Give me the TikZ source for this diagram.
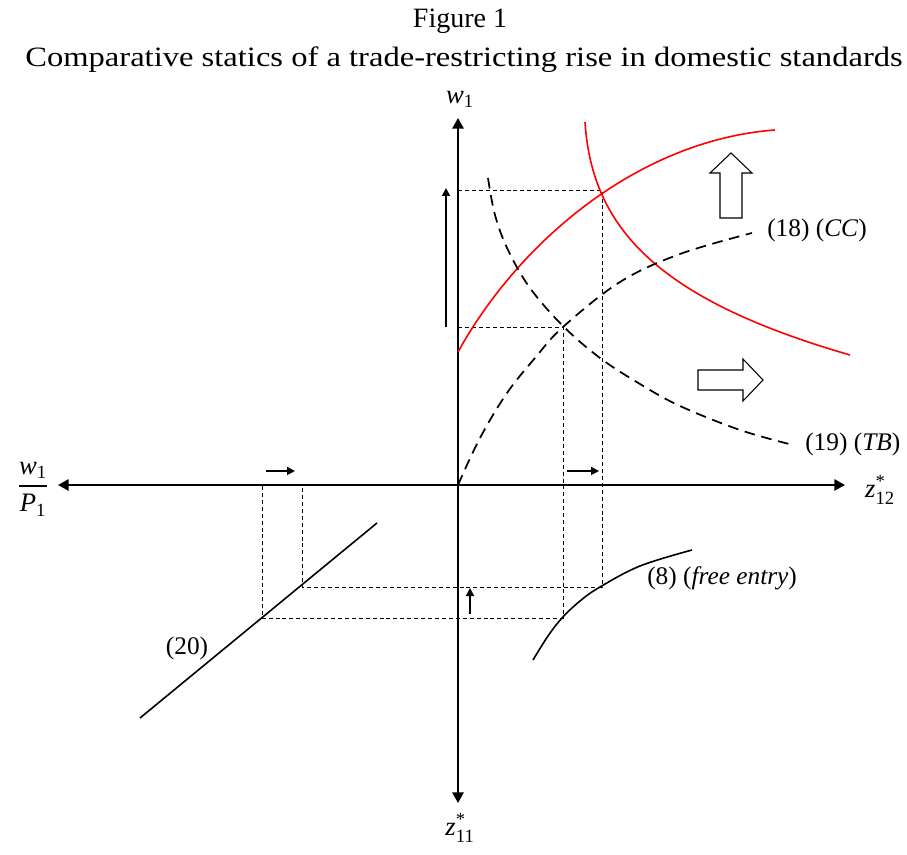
\documentclass[tikz,border=0pt]{standalone}
\usepackage{amsmath}
\usepackage{graphicx}
\usepackage{fontspec}
\setmainfont{Liberation Serif}
\usetikzlibrary{arrows.meta}
\begin{document}
\begin{tikzpicture}[x=0.75pt,y=-0.75pt,
  axis/.style={line width=1.5pt,-{Triangle[length=8pt,width=8.5pt]}},
  smallarrow/.style={line width=1.3pt,-{Triangle[length=6pt,width=6pt]}},
  guide/.style={line width=0.7pt,dash pattern=on 3pt off 2.2pt},
  curvedash/.style={line width=1.3pt,dash pattern=on 8pt off 5pt},
  redcurve/.style={line width=1.2pt,red},
  solidcurve/.style={line width=1.2pt,black},
  blockarrow/.style={line width=0.8pt,draw=black,fill=white},
  lbl/.style={font=\fontsize{19}{22}\selectfont,inner sep=0pt},
  axlbl/.style={font=\fontsize{20}{24}\selectfont,inner sep=0pt},
  ttl/.style={font=\fontsize{21}{25}\selectfont,inner sep=0pt}]
\useasboundingbox (0,0) rectangle (907,855);

% titles
\node[ttl] (fig) at (460,21) {Figure 1};
\node[ttl] (title) at (464,60) {\resizebox{658pt}{\height}{Comparative statics of a trade-restricting rise in domestic standards}};

% axes
\coordinate (O) at (458,485);
\coordinate (ytop) at (458,118);
\coordinate (ybot) at (458,803);
\coordinate (xleft) at (58,485);
\coordinate (xright) at (845,485);
\draw[axis] (O) -- (ytop);
\draw[axis] (O) -- (ybot);
\draw[axis] (O) -- (xleft);
\draw[axis] (O) -- (xright);

\node[axlbl] (w1) at (460,99) {$\textit{w}_{\text{1}}$};
\node[axlbl] (wp) at (33,489) {$\dfrac{\textit{w}_{\text{1}}}{\textit{P}_{\text{1}}}$};
\node[axlbl] (z12) at (880,490) {$\textit{z}^{\text{*}}_{\text{12}}$};
\node[axlbl] (z11) at (460,828) {$\textit{z}^{\text{*}}_{\text{11}}$};

% guide lines
\coordinate (g1) at (458,190);
\coordinate (g2) at (602,190);
\coordinate (g3) at (602,587);
\coordinate (g4) at (302,587);
\coordinate (g5) at (302,485);
\coordinate (h1) at (458,327);
\coordinate (h2) at (563,327);
\coordinate (h3) at (563,618);
\coordinate (h4) at (262,618);
\coordinate (h5) at (262,485);
\draw[guide] (g1) -- (g2) -- (g3) -- (g4) -- (g5);
\draw[guide] (h1) -- (h2) -- (h3) -- (h4) -- (h5);

% red curves
\draw[redcurve] (458,352) .. controls (520,240) and (640,140) .. (775,130);
\draw[redcurve] (585,122) .. controls (592,230) and (660,300) .. (850,355);

% black dashed curves
\draw[curvedash] plot[smooth,tension=0.6] coordinates {(458,485) (480,438) (507,393) (535,358) (563,327) (620,282) (680,254) (752,233)};
\draw[curvedash] plot[smooth,tension=0.6] coordinates {(488,178) (495,215) (508,250) (530,288) (563,326) (600,358) (640,384) (680,406) (740,430) (793,445)};

% line (20)
\coordinate (l20a) at (140,718);
\coordinate (l20b) at (377,523);
\draw[solidcurve] (l20a) -- (l20b);

% free entry curve
\draw[solidcurve] plot[smooth,tension=0.6] coordinates {(533,660) (548,636) (562,618) (580,601) (600,587) (640,566) (692,550)};

% labels
\node[lbl,anchor=west] (cc) at (767,230) {(18) (\textit{CC})};
\node[lbl,anchor=west] (tb) at (805,444) {(19) (\textit{TB})};
\node[lbl,anchor=west] (fe) at (647,578) {(8) (\textit{free entry})};
\node[lbl] (l20) at (187,648) {(20)};

% small arrows
\coordinate (a1s) at (266,471); \coordinate (a1e) at (295,471);
\coordinate (a2s) at (567,471); \coordinate (a2e) at (599,471);
\coordinate (a3s) at (470,614); \coordinate (a3e) at (470,588);
\coordinate (a4s) at (446,327); \coordinate (a4e) at (446,188);
\draw[smallarrow] (a1s) -- (a1e);
\draw[smallarrow] (a2s) -- (a2e);
\draw[smallarrow] (a3s) -- (a3e);
\draw[smallarrow] (a4s) -- (a4e);

% block arrows
\draw[blockarrow] (720,218) -- (742,218) -- (742,173) -- (752,173) -- (731,153) -- (710,173) -- (720,173) -- cycle;
\draw[blockarrow] (698,370) -- (743,370) -- (743,359) -- (763,380) -- (743,401) -- (743,390) -- (698,390) -- cycle;
\end{tikzpicture}
\end{document}
